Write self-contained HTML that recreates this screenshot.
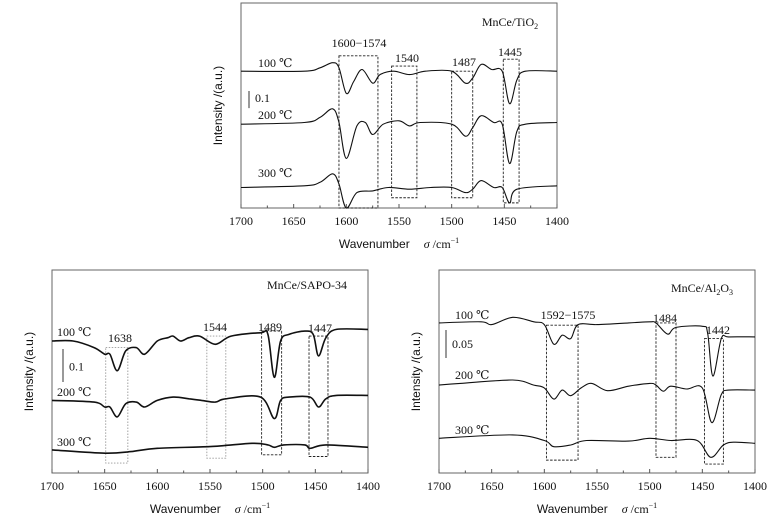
<!DOCTYPE html>
<html><head><meta charset="utf-8"><style>
html,body{margin:0;padding:0;background:#fff;}
svg{display:block;}
text{font-family:"Liberation Serif","DejaVu Serif",serif;fill:#111;}
.sans{font-family:"Liberation Sans","DejaVu Sans",sans-serif;}
</style></head><body>
<svg id="chart" width="775" height="523" viewBox="0 0 775 523" xmlns="http://www.w3.org/2000/svg"></svg>
<script>
// ---------- data ----------
const xTicks = [1700,1650,1600,1550,1500,1450,1400];
const tempLabels = ['100 ℃','200 ℃','300 ℃'];

const tio2_100 = [[1700,.80],[1640,.80],[1625,.82],[1613,.85],[1607,.82],[1600,.67],[1593,.74],[1585,.81],[1575,.73],[1568,.78],[1555,.80],[1540,.78],[1525,.80],[1500,.80],[1487,.73],[1480,.76],[1472,.84],[1462,.81],[1452,.80],[1445,.61],[1438,.75],[1430,.80],[1400,.80]];
const tio2_200 = [[1700,.49],[1640,.50],[1625,.53],[1613,.58],[1607,.50],[1600,.29],[1590,.48],[1582,.50],[1575,.43],[1565,.49],[1550,.51],[1540,.48],[1530,.50],[1500,.49],[1487,.42],[1480,.47],[1472,.54],[1460,.50],[1452,.49],[1445,.26],[1438,.45],[1430,.49],[1400,.50]];
const tio2_300 = [[1700,.12],[1640,.13],[1625,.15],[1613,.20],[1607,.14],[1600,.00],[1590,.09],[1575,.10],[1560,.12],[1540,.11],[1520,.12],[1500,.12],[1487,.09],[1480,.11],[1472,.16],[1460,.12],[1452,.12],[1445,.03],[1438,.11],[1400,.13]];
const tio2_boxes = [[1607,1570,.89,0],[1557,1533,.83,.06],[1500,1480,.80,.06],[1451,1436,.87,.03]];
const tio2_peaks = ['1600−1574','1540','1487','1445'];

const sapo_100 = [[1700,.40],[1680,.40],[1660,.38],[1650,.36],[1645,.36],[1638,.31],[1630,.37],[1620,.38],[1612,.36],[1600,.40],[1590,.41],[1585,.415],[1578,.40],[1570,.41],[1560,.415],[1545,.39],[1530,.415],[1502,.425],[1495,.42],[1489,.29],[1483,.40],[1475,.42],[1460,.43],[1452,.42],[1447,.355],[1440,.41],[1430,.435],[1400,.435]];
const sapo_200 = [[1700,.22],[1660,.215],[1650,.20],[1645,.20],[1638,.17],[1630,.21],[1620,.215],[1612,.20],[1600,.22],[1585,.23],[1570,.225],[1558,.22],[1545,.215],[1535,.225],[1502,.23],[1489,.165],[1483,.22],[1475,.23],[1455,.23],[1447,.20],[1440,.225],[1430,.235],[1400,.235]];
const sapo_300 = [[1700,.07],[1650,.06],[1625,.065],[1600,.075],[1550,.08],[1510,.09],[1495,.085],[1489,.078],[1480,.085],[1460,.085],[1455,.075],[1440,.085],[1400,.078]];
const sapo_boxes = [[1649,1628,.38,.03],[1553,1535,.415,.045],[1501,1482,.43,.055],[1456,1438,.415,.05]];
const sapo_peaks = ['1638','1544','1489','1447'];

const al_100 = [[1700,.268],[1660,.27],[1650,.265],[1630,.278],[1610,.27],[1600,.265],[1591,.23],[1583,.246],[1575,.24],[1568,.265],[1550,.265],[1520,.268],[1500,.27],[1494,.268],[1483,.248],[1475,.26],[1450,.262],[1445,.25],[1440,.173],[1432,.24],[1425,.243],[1400,.243]];
const al_200 = [[1700,.157],[1680,.16],[1630,.166],[1610,.157],[1600,.152],[1591,.132],[1583,.148],[1575,.138],[1565,.152],[1555,.16],[1540,.147],[1520,.155],[1500,.16],[1494,.157],[1487,.146],[1480,.155],[1465,.15],[1450,.152],[1441,.09],[1432,.14],[1425,.148],[1400,.148]];
const al_300 = [[1700,.062],[1630,.068],[1600,.058],[1591,.047],[1575,.05],[1560,.058],[1520,.057],[1500,.062],[1480,.058],[1455,.058],[1442,.028],[1430,.05],[1420,.055],[1400,.053]];
const al_boxes = [[1598,1568,.264,.023],[1494,1475,.268,.028],[1448,1430,.24,.016]];
const al_peaks = ['1592−1575','1484','1442'];

// ---------- drawing ----------
const NS='http://www.w3.org/2000/svg';
const svg=document.getElementById('chart');
function mk(tag,attrs,parent){const e=document.createElementNS(NS,tag);for(const k in attrs)e.setAttribute(k,attrs[k]);(parent||svg).appendChild(e);return e;}
function txt(s,attrs,parent){const e=mk('text',attrs,parent);e.textContent=s;return e;}
function smooth(pts){
  let d='M'+pts[0][0].toFixed(1)+','+pts[0][1].toFixed(1);
  for(let i=0;i<pts.length-1;i++){
    const p0=pts[Math.max(0,i-1)],p1=pts[i],p2=pts[i+1],p3=pts[Math.min(pts.length-1,i+2)];
    const c1x=p1[0]+(p2[0]-p0[0])/6,c1y=p1[1]+(p2[1]-p0[1])/6;
    const c2x=p2[0]-(p3[0]-p1[0])/6,c2y=p2[1]-(p3[1]-p1[1])/6;
    d+=' C'+c1x.toFixed(1)+','+c1y.toFixed(1)+' '+c2x.toFixed(1)+','+c2y.toFixed(1)+' '+p2[0].toFixed(1)+','+p2[1].toFixed(1);
  }
  return d;
}
function panel(cfg){
  const g=mk('g',{});
  
  
  const X=v=>cfg.x0+(1700-v)/300*(cfg.x1-cfg.x0);
  const Y=v=>cfg.y1-v*cfg.pxPerUnit;
  const frame=mk('rect',{x:cfg.x0,y:cfg.y0,width:cfg.x1-cfg.x0,height:cfg.y1-cfg.y0,fill:'none',stroke:'#666','stroke-width':1},g);
  
  
  for(let v=1700;v>=1400;v-=25){
    const major=(v%50===0);
    const t=mk('line',{x1:X(v),x2:X(v),y1:cfg.y1,y2:cfg.y1-(major?4:2.5),stroke:'#555','stroke-width':1},g);
    
    
  }
  xTicks.forEach(v=>{
    const l=txt(String(v),{x:X(v),y:cfg.y1+17,'font-size':12,'text-anchor':'middle'},g);
    
    
  });
  cfg.boxes.forEach((b,i)=>{
    const r=mk('rect',{x:X(b[0]),y:Y(b[2]),width:X(b[1])-X(b[0]),height:Y(b[3])-Y(b[2]),fill:'none',stroke:cfg.boxColors?cfg.boxColors[i]:'#222','stroke-width':0.9,'stroke-dasharray':cfg.boxDash?cfg.boxDash[i]:'2.5,1.5'},g);
    
    
  });
  cfg.series.forEach((s,i)=>{
    const p=mk('path',{d:smooth(s.map(q=>[X(q[0]),Y(q[1])])),fill:'none',stroke:'#111','stroke-width':cfg.lw,'stroke-linejoin':'round'},g);
    
    
    const t=txt(tempLabels[i],{x:cfg.tempX,y:cfg.tempY[i],'font-size':12},g);
    
    
  });
  cfg.peaks.forEach((s,i)=>{
    const t=txt(s,{x:cfg.peakPos[i][0],y:cfg.peakPos[i][1],'font-size':12,'text-anchor':'middle'},g);
    
    
  });
  const sb=mk('line',{x1:cfg.sb[0],x2:cfg.sb[0],y1:cfg.sb[1],y2:cfg.sb[1]+cfg.sbVal*cfg.pxPerUnit,stroke:'#333','stroke-width':1},g);
  
  
  const sbt=txt(String(cfg.sbVal),{x:cfg.sb[0]+6,y:cfg.sb[1]+cfg.sbVal*cfg.pxPerUnit*0.65,'font-size':12},g);
  
  
  const ti=txt('',{x:cfg.title[0],y:cfg.title[1],'font-size':12,'text-anchor':'middle'},g);
  ti.innerHTML=cfg.titleHTML;
  
  
  const cy=(cfg.y0+cfg.y1)/2;
  const yt=txt('Intensity /(a.u.)',{x:cfg.x0-19,y:cy,'font-size':12,'text-anchor':'middle',class:'sans',transform:'rotate(-90 '+(cfg.x0-19)+' '+cy+')'},g);
  
  
  const xt=txt('',{x:(cfg.x0+cfg.x1)/2,y:cfg.y1+40,'font-size':12,'text-anchor':'middle'},g);
  xt.innerHTML='<tspan class="sans">Wavenumber</tspan><tspan dx="14" font-style="italic">σ</tspan><tspan> /cm</tspan><tspan font-size="8" dy="-5">−1</tspan>';
  
  
}
panel({name:'panel-mnce-tio2',x0:241,x1:557,y0:3,y1:208,pxPerUnit:171,lw:1.1,
  series:[tio2_100,tio2_200,tio2_300],boxes:tio2_boxes,peaks:tio2_peaks,
  peakPos:[[359,47],[407,62],[464,66],[510,56]],tempX:258,tempY:[67,119,177],
  sb:[249,91],sbVal:0.1,title:[510,26],titleHTML:'MnCe/TiO<tspan font-size="8" dy="3">2</tspan>'});
panel({name:'panel-mnce-sapo34',x0:52,x1:368,y0:270,y1:473,pxPerUnit:330,lw:1.6,
  series:[sapo_100,sapo_200,sapo_300],boxes:sapo_boxes,peaks:sapo_peaks,
  peakPos:[[120,342],[215,331],[270,331],[320,332]],tempX:57,tempY:[336,396,446],
  sb:[63,349],sbVal:0.1,title:[307,289],titleHTML:'MnCe/SAPO-34',
  boxColors:['#999','#999','#222','#222'],boxDash:['1.5,1.5','1.5,1.5','2.5,1.5','2.5,1.5']});
panel({name:'panel-mnce-al2o3',x0:439,x1:755,y0:270,y1:473,pxPerUnit:560,lw:1.1,
  series:[al_100,al_200,al_300],boxes:al_boxes,peaks:al_peaks,
  peakPos:[[568,319],[665,322],[718,334]],tempX:455,tempY:[319,379,434],
  sb:[446,330],sbVal:0.05,title:[702,292],titleHTML:'MnCe/Al<tspan font-size="8" dy="3">2</tspan><tspan dy="-3">O</tspan><tspan font-size="8" dy="3">3</tspan>'});
</script>
</body></html>
